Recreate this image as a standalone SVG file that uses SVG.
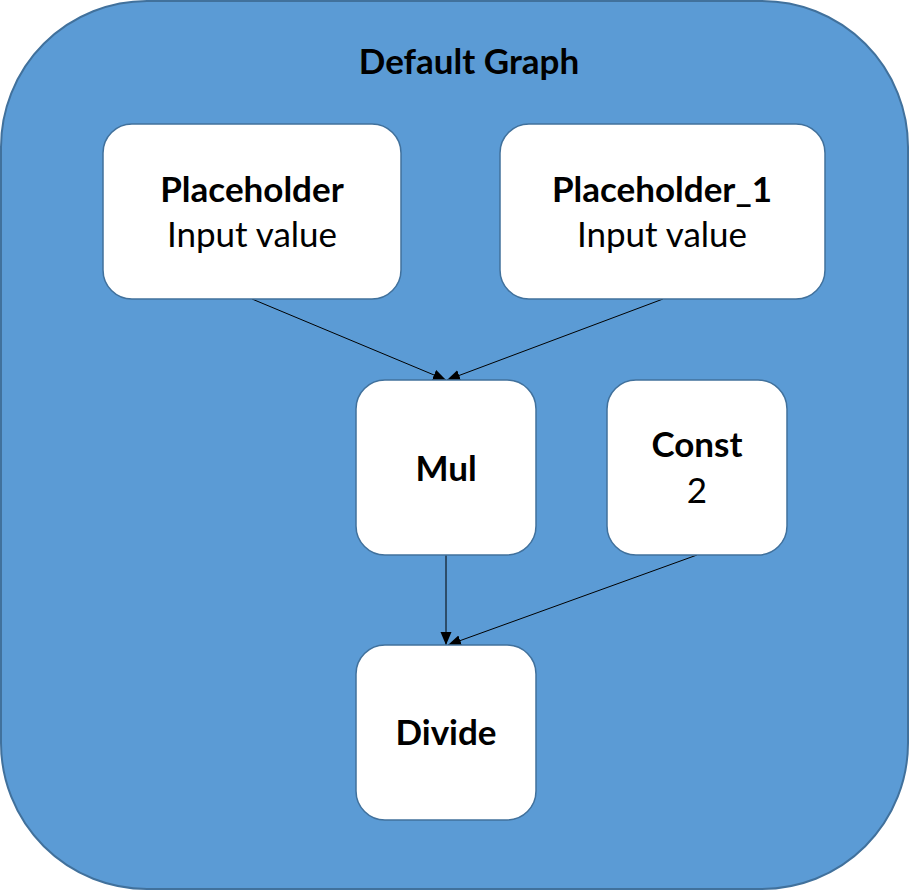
<svg xmlns="http://www.w3.org/2000/svg" width="909" height="891" viewBox="0 0 909 891">
<defs>
<style>
.node{fill:#ffffff;stroke:#41719C;stroke-width:1.5}
.frame{fill:#5B9BD5;stroke:#41719C;stroke-width:2}
.b{font-family:Lato,"Open Sans",sans-serif;font-weight:bold;font-size:35px;fill:#000;text-anchor:middle}
.r{font-family:Lato,"Open Sans",sans-serif;font-size:35px;fill:#000;text-anchor:middle}
.edge{stroke:#000;stroke-width:1;fill:none;marker-end:url(#arr)}
</style>
<marker id="arr" markerUnits="userSpaceOnUse" markerWidth="14" markerHeight="12" refX="13" refY="5.5" orient="auto">
<path d="M0,0 L13,5.5 L0,11 z" fill="#000"/>
</marker>
</defs>
<g id="default-graph">
<rect class="frame" x="1" y="1" width="907" height="888" rx="146" ry="146"/>
<text class="b" x="469" y="74">Default Graph</text>
</g>
<g id="connectors">
<line class="edge" x1="252" y1="299" x2="446" y2="380"/>
<line class="edge" x1="663" y1="299" x2="447" y2="380"/>
<line class="edge" x1="446" y1="555" x2="446" y2="645"/>
<line class="edge" x1="697" y1="555" x2="448" y2="645"/>
</g>
<g id="placeholder">
<rect class="node" x="103" y="124" width="298" height="175" rx="29" ry="29"/>
<text class="b" x="252" y="202">Placeholder</text>
<text class="r" x="252" y="247">Input value</text>
</g>
<g id="placeholder-1">
<rect class="node" x="500" y="124" width="325" height="175" rx="29" ry="29"/>
<text class="b" x="662" y="202">Placeholder_1</text>
<text class="r" x="662" y="247">Input value</text>
</g>
<g id="mul">
<rect class="node" x="356" y="380" width="180" height="175" rx="29" ry="29"/>
<text class="b" x="446" y="481">Mul</text>
</g>
<g id="const">
<rect class="node" x="607" y="380" width="180" height="175" rx="29" ry="29"/>
<text class="b" x="697" y="457">Const</text>
<text class="r" x="697" y="503">2</text>
</g>
<g id="divide">
<rect class="node" x="356" y="645" width="180" height="175" rx="29" ry="29"/>
<text class="b" x="446" y="745">Divide</text>
</g>
</svg>
